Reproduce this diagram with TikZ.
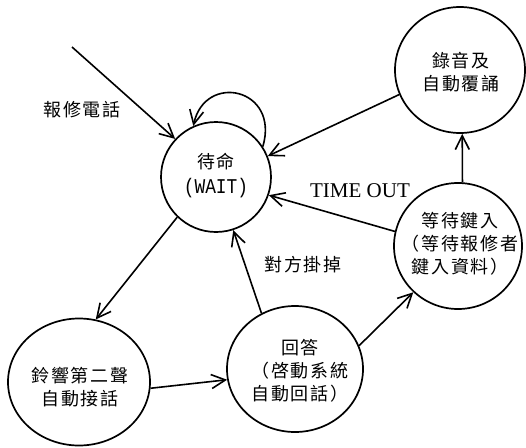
\documentclass[tikz,border=0pt]{standalone}
\usepackage{fontspec}
\usepackage{graphicx}
\usetikzlibrary{arrows.meta,shapes.geometric}
\newfontfamily\cjk[LetterSpace=10]{Noto Sans CJK TC}
\newfontfamily\tmfont{Liberation Serif}
\newfontfamily\monofont{Liberation Mono}
\tikzset{
  state/.style={draw, ellipse, line width=1.7pt, inner sep=0pt},
  txt/.style={align=center, inner sep=0pt, font=\cjk\fontsize{18}{23}\selectfont},
  arr/.style={line width=1.6pt, -{Straight Barb[length=14pt,width=14pt,line width=1.6pt]}},
}
\begin{document}
\begin{tikzpicture}[x=1pt,y=-1pt]
\useasboundingbox (0,0) rectangle (526,447);
% states
\node[state, minimum width=110pt, minimum height=110pt] (wait) at (216,177) {};
\node[state, minimum width=130pt, minimum height=126pt] (rec) at (460,70) {};
\node[state, minimum width=128pt, minimum height=126pt] (kin) at (458,246) {};
\node[state, minimum width=142pt, minimum height=127pt] (ring) at (79,382) {};
\node[state, minimum width=136pt, minimum height=126pt] (ans) at (295,369) {};
% texts
\node[txt] (waitt) at (216,176) {待命\\[2pt]{\monofont\fontsize{21}{23}\selectfont\scalebox{0.85}[1]{(WAIT)}}};
\node[txt] (rect) at (461,72) {錄音及\\自動覆誦};
\node[txt] (kint) at (460,244) {等待鍵入\\（等待報修者\\鍵入資料）};
\node[txt] (ringt) at (80,387) {鈴響第二聲\\自動接話};
\node[txt] (anst) at (300,371) {回答\\（啓動系統\\自動回話）};
% labels
\node[txt] (l1) at (82,110) {報修電話};
\node[txt] (l2) at (303,265) {對方掛掉};
\node[inner sep=0pt, font=\tmfont\fontsize{21}{23}\selectfont] (l3) at (360,191) {TIME OUT};
% connectors
\coordinate (src) at (72,47);
\draw[arr] (src) -- (wait.137);
\draw[arr] (wait.33) .. controls (280,88) and (205,72) .. (wait.114);
\draw[arr] (wait.226) -- (ring.75);
\draw[arr] (ring.-5) -- (ans.189);
\draw[arr] (ans.121) -- (wait.-72);
\draw[arr] (ans.20) -- (kin.226);
\draw[arr] (kin.167) -- (wait.-19);
\draw[arr] (rec.202) -- (wait.22);
\draw[arr] (kin.86) -- (rec.-88);
\end{tikzpicture}
\end{document}
